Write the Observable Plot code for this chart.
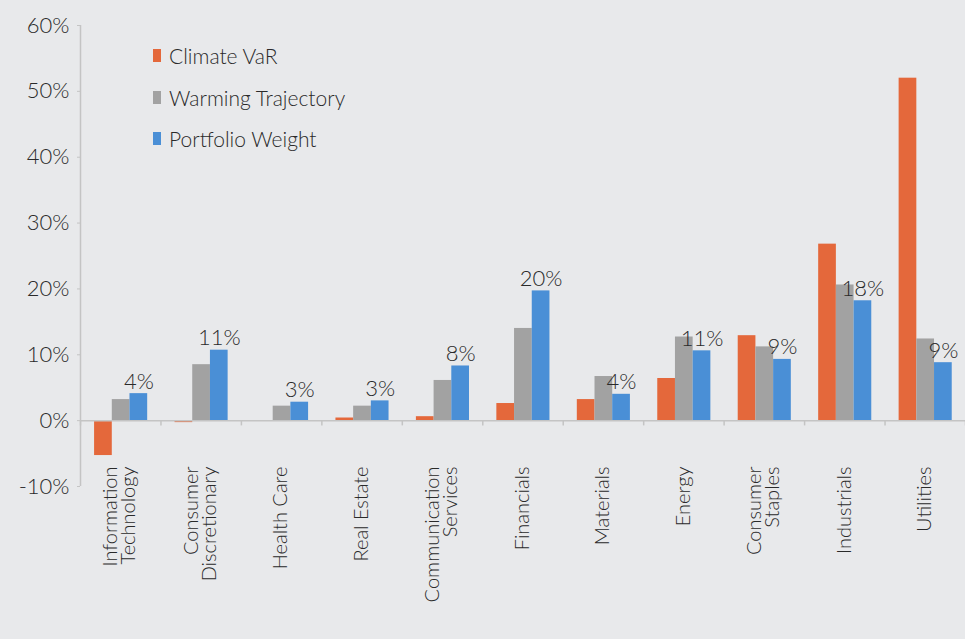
<!DOCTYPE html>
<html>
<head>
<meta charset="utf-8">
<script src="https://cdn.jsdelivr.net/npm/d3@7"></script>
<script src="https://cdn.jsdelivr.net/npm/@observablehq/plot@0.6"></script>
<style>
  html, body { margin: 0; padding: 0; background: #e8e9eb; }
  #wrap { position: relative; width: 965px; height: 639px; font-family: Lato, "Open Sans", sans-serif; font-weight: 300; }
  #legend { position: absolute; left: 153px; top: 35px; color: #2a2a2a; font-size: 21px; }
  #legend .row { display: flex; align-items: center; height: 41.5px; }
  #legend .sw { width: 8px; height: 13px; margin-right: 8px; }
</style>
</head>
<body>
<div id="wrap"><div id="legend"></div></div>
<script>
const categories = ["Information\nTechnology", "Consumer\nDiscretionary", "Health Care", "Real Estate", "Communication\nServices", "Financials", "Materials", "Energy", "Consumer\nStaples", "Industrials", "Utilities"];
const seriesNames = ["Climate VaR", "Warming Trajectory", "Portfolio Weight"];
const seriesColors = ["#e4683b", "#a2a2a2", "#4a8fd6"];
const climateVaR = [-0.053, -0.003, 0.0, 0.004, 0.006, 0.026, 0.032, 0.064, 0.129, 0.268, 0.52];
const warmingTrajectory = [0.032, 0.085, 0.022, 0.022, 0.061, 0.14, 0.067, 0.127, 0.112, 0.206, 0.124];
const portfolioWeight = [0.041, 0.107, 0.028, 0.03, 0.083, 0.197, 0.04, 0.106, 0.093, 0.182, 0.088];
const weightLabels = ["4%", "11%", "3%", "3%", "8%", "20%", "4%", "11%", "9%", "18%", "9%"];
const yTicks = [-0.1, 0, 0.1, 0.2, 0.3, 0.4, 0.5, 0.6];

// group layout within each category band (fraction of band)
const groupStart = 0.175, barW = 0.22;

const seriesValues = [climateVaR, warmingTrajectory, portfolioWeight];
const bars = [];
seriesValues.forEach((vals, s) => vals.forEach((v, i) => bars.push({
  cat: i, s, name: seriesNames[s], value: v,
  x1: i + groupStart + s * barW, x2: i + groupStart + (s + 1) * barW
})));
const labelData = portfolioWeight.map((v, i) => ({x: i + groupStart + 2.5 * barW, y: v, label: weightLabels[i]}));
const catData = categories.map((c, i) => ({x: i + 0.5, label: c}));
const boundaries = d3.range(categories.length + 1);

const fmt = d => (d < 0 ? "-" : "") + Math.round(Math.abs(d) * 100) + "%";

const chart = Plot.plot({
  width: 965,
  height: 639,
  marginLeft: 80,
  marginRight: 0,
  marginTop: 25,
  marginBottom: 153,
  style: {background: "transparent", fontFamily: "Lato, 'Open Sans', sans-serif", fontWeight: 300, color: "#2a2a2a"},
  x: {type: "linear", domain: [0, categories.length], axis: null},
  y: {domain: [-0.1, 0.6], axis: null},
  color: {domain: seriesNames, range: seriesColors},
  marks: [
    Plot.axisY({ticks: yTicks, tickFormat: fmt, tickSize: 3, tickPadding: 8, fontSize: 22, stroke: "#c4c4c4", fill: "#2a2a2a"}),
    Plot.ruleX([0], {y1: -0.1, y2: 0.6, stroke: "#c4c4c4", strokeWidth: 1.5}),
    Plot.rectY(bars, {x1: "x1", x2: "x2", y1: 0, y2: "value", fill: "name"}),
    Plot.ruleY([0], {stroke: "#c4c4c4", strokeWidth: 1.5}),
    Plot.ruleX(boundaries, {x: d => d, y1: 0, y2: -0.008, stroke: "#c4c4c4", strokeWidth: 1.5}),
    Plot.text(labelData, {x: "x", y: "y", text: "label", dy: -5, lineAnchor: "bottom", fontSize: 22, fill: "#2a2a2a"}),
    Plot.text(catData, {x: "x", frameAnchor: "bottom", dy: -20, text: "label", rotate: -90, textAnchor: "end", lineAnchor: "middle", lineHeight: 0.9, fontSize: 20, fill: "#2a2a2a"})
  ]
});
document.getElementById("wrap").prepend(chart);

const legend = document.getElementById("legend");
seriesNames.forEach((n, i) => {
  const row = document.createElement("div");
  row.className = "row";
  row.innerHTML = `<span class="sw" style="background:${seriesColors[i]}"></span><span>${n}</span>`;
  legend.appendChild(row);
});
</script>
</body>
</html>
